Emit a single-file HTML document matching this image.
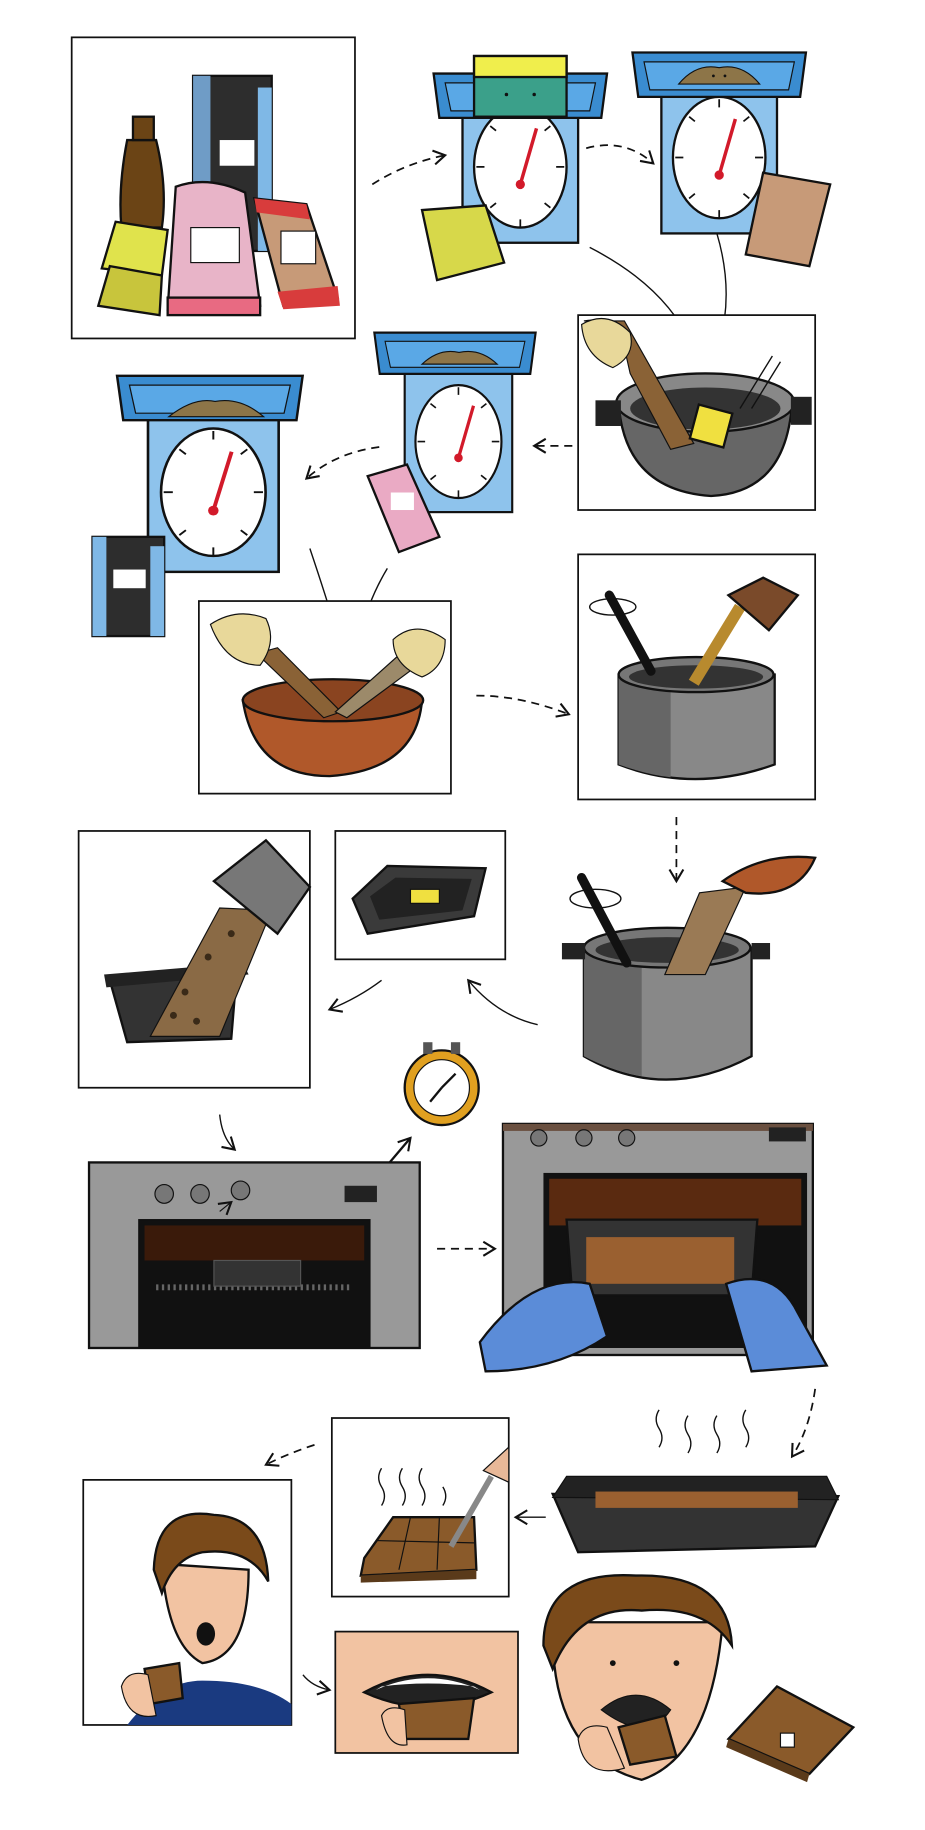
<!DOCTYPE html>
<html><head><meta charset="utf-8"><style>html,body{margin:0;padding:0;background:#fff}svg{display:block}</style></head>
<body>
<svg width="925" height="1830" viewBox="0 0 800 1568" preserveAspectRatio="none" xmlns="http://www.w3.org/2000/svg">
<defs>
<marker id="ah" markerUnits="userSpaceOnUse" markerWidth="14" markerHeight="14" refX="11" refY="7" orient="auto"><path d="M1,1 L11,7 L1,13" fill="none" stroke="#111" stroke-width="1.8"/></marker>
<g id="scale">
 <rect x="0" y="30" width="100" height="130" fill="#8ec3ec" stroke="#111" stroke-width="2"/>
 <ellipse cx="50" cy="95" rx="40" ry="52" fill="#fff" stroke="#111" stroke-width="2"/>
 <line x1="50" y1="110" x2="64" y2="62" stroke="#d21a2a" stroke-width="3"/>
 <circle cx="50" cy="110" r="4" fill="#d21a2a"/>
 <path d="M50,45v7M50,140v7M12,95h7M81,95h7M24,60l5,4M76,60l-5,4M24,130l5,-4M76,130l-5,-4" stroke="#111" stroke-width="1.5"/>
</g>
<g id="tray">
 <path d="M-25,0 H125 L120,38 H-20 Z" fill="#3a8cd0" stroke="#111" stroke-width="2"/>
 <path d="M-15,8 H115 L110,32 H-10 Z" fill="#5aa8e6" stroke="#111" stroke-width="1"/>
</g>
</defs>
<style>.p{fill:#fff;stroke:#111;stroke-width:1.5}.a{fill:none;stroke:#111;stroke-width:1.5;stroke-dasharray:7 5}.s{fill:none;stroke:#111;stroke-width:1.2}</style>

<rect class="p" x="62" y="32" width="245" height="258"/>
<rect x="167" y="65" width="68" height="150" fill="#2d2d2d" stroke="#111" stroke-width="2"/>
<rect x="167" y="65" width="15" height="150" fill="#6f9cc6"/><rect x="223" y="75" width="12" height="140" fill="#7fb8e6"/>
<rect x="190" y="120" width="30" height="22" fill="#fff"/>
<path d="M110,120 Q102,160 105,195 H140 Q145,160 135,120 Z" fill="#6b4415" stroke="#111" stroke-width="2"/>
<rect x="115" y="100" width="18" height="20" fill="#6b4415" stroke="#111" stroke-width="2"/>
<path d="M100,190 L145,197 L140,236 L88,230 Z" fill="#e0e34c" stroke="#111" stroke-width="2"/>
<path d="M95,228 L140,236 L138,270 L85,262 Z" fill="#c8c53c" stroke="#111" stroke-width="2"/>
<path d="M152,160 Q180,150 212,165 L225,262 L145,265 Z" fill="#e8b4c8" stroke="#111" stroke-width="2"/>
<rect x="145" y="255" width="80" height="15" fill="#e86a82" stroke="#111" stroke-width="2"/>
<rect x="165" y="195" width="42" height="30" fill="#fff" stroke="#111"/>
<path d="M220,170 L265,175 L292,255 L245,262 Z" fill="#c79a78" stroke="#111" stroke-width="2"/>
<path d="M220,170 L265,175 L268,188 L222,182Z" fill="#d83c3c"/><path d="M240,250 L292,245 L294,262 L245,265Z" fill="#d83c3c"/>
<rect x="243" y="198" width="30" height="28" fill="#fff" stroke="#111"/>
<path class="a" d="M322,158 Q350,140 385,133" marker-end="url(#ah)"/>

<g transform="translate(400,48)"><use href="#scale"/><use href="#tray" transform="translate(0,15)"/>
<rect x="10" y="0" width="80" height="52" fill="#3ba08a" stroke="#111" stroke-width="2"/><rect x="10" y="0" width="80" height="18" fill="#f0ee4c" stroke="#111" stroke-width="2"/>
<circle cx="38" cy="33" r="1.5" fill="#111"/><circle cx="62" cy="33" r="1.5" fill="#111"/></g>
<path d="M365,180 L420,176 L436,225 L378,240 Z" fill="#d7d84a" stroke="#111" stroke-width="2"/>
<path class="a" d="M507,127 Q540,118 565,140" marker-end="url(#ah)"/>

<g transform="translate(572,40)"><use href="#scale"/><use href="#tray" transform="translate(0,5)"/>
<path d="M15,32 Q30,14 50,18 Q70,14 85,32 Z" fill="#8d7548" stroke="#111"/><circle cx="45" cy="25" r="1.2" fill="#111"/><circle cx="55" cy="25" r="1.2" fill="#111"/></g>
<path d="M660,148 L718,158 L700,228 L645,218 Z" fill="#c79a78" stroke="#111" stroke-width="2"/>
<path class="s" d="M510,212 Q575,245 598,295" marker-end="url(#ah)"/>
<path class="s" d="M620,200 Q635,250 622,295" marker-end="url(#ah)"/>

<rect class="p" x="500" y="270" width="205" height="167"/>
<path d="M535,345 Q540,420 615,425 Q680,422 685,345 Z" fill="#666" stroke="#111" stroke-width="2"/>
<ellipse cx="610" cy="345" rx="77" ry="25" fill="#888" stroke="#111" stroke-width="2"/>
<ellipse cx="610" cy="350" rx="65" ry="18" fill="#333"/>
<rect x="515" y="343" width="22" height="22" fill="#222"/><rect x="684" y="340" width="18" height="24" fill="#222"/>
<path d="M505,275 Q530,270 540,298 L545,320 L580,385 L600,380 L560,310 L540,275 Z" fill="#8a6236" stroke="#111"/>
<path d="M503,278 Q525,265 545,285 Q550,305 530,315 Q505,305 503,278Z" fill="#e8d89a" stroke="#111"/>
<rect x="600" y="350" width="30" height="30" fill="#f0e040" stroke="#111" stroke-width="2" transform="rotate(15 615 365)"/>
<path class="s" d="M640,350 L668,305M650,350 L675,310"/>
<path class="a" d="M495,382 L462,382" marker-end="url(#ah)"/>

<g transform="translate(350,290)"><use href="#scale" transform="scale(0.93)"/><use href="#tray" transform="translate(-3,-5) scale(0.93)"/>
<path d="M15,22 Q30,8 47,12 Q65,8 80,22 Z" fill="#8d7548" stroke="#111"/></g>
<path d="M318,408 L352,398 L380,460 L345,473 Z" fill="#eaaac4" stroke="#111" stroke-width="2"/>
<rect x="338" y="422" width="20" height="15" fill="#fff"/>
<path class="a" d="M328,383 Q290,388 265,410" marker-end="url(#ah)"/>

<g transform="translate(128,322)"><use href="#scale" transform="scale(1.13,1.05)"/><use href="#tray" transform="translate(0,0) scale(1.07,1)"/>
<path d="M18,35 Q40,18 58,22 Q80,18 100,35 Z" fill="#8d7548" stroke="#111"/></g>
<rect x="80" y="460" width="62" height="85" fill="#2d2d2d" stroke="#111" stroke-width="2"/>
<rect x="80" y="460" width="12" height="85" fill="#7fb8e6"/><rect x="130" y="468" width="12" height="77" fill="#7fb8e6"/>
<rect x="98" y="488" width="28" height="16" fill="#fff"/>
<path class="s" d="M268,470 Q285,520 295,555" marker-end="url(#ah)"/>
<path class="s" d="M335,487 Q315,520 310,555" marker-end="url(#ah)"/>

<rect class="p" x="172" y="515" width="218" height="165"/>
<path d="M210,600 Q220,665 285,665 Q360,660 365,600 Z" fill="#b0582a" stroke="#111" stroke-width="2"/>
<ellipse cx="288" cy="600" rx="78" ry="18" fill="#8a4420" stroke="#111" stroke-width="2"/>
<path d="M222,560 L280,615 L295,610 L240,555Z" fill="#8a6236" stroke="#111"/>
<path d="M375,560 L300,615 L290,610 L360,548Z" fill="#9c8a6a" stroke="#111"/>
<path d="M182,535 Q205,520 230,530 Q240,550 225,570 Q195,570 182,535Z" fill="#e8d89a" stroke="#111"/>
<path d="M340,548 Q360,530 385,548 Q385,572 365,580 Q340,570 340,548Z" fill="#e8d89a" stroke="#111"/>
<path class="a" d="M412,596 Q450,596 492,612" marker-end="url(#ah)"/>

<rect class="p" x="500" y="475" width="205" height="210"/>
<path d="M535,578 V655 Q600,680 670,655 V578 Z" fill="#888" stroke="#111" stroke-width="2"/>
<path d="M535,578 V655 Q560,664 580,666 V580Z" fill="#666"/>
<ellipse cx="602" cy="578" rx="67" ry="15" fill="#777" stroke="#111" stroke-width="2"/>
<ellipse cx="602" cy="580" rx="58" ry="10" fill="#333"/>
<path d="M527,510 L563,575" stroke="#111" stroke-width="8" stroke-linecap="round"/>
<path d="M600,585 L640,520" stroke="#b88a2e" stroke-width="10"/>
<path d="M630,510 L660,495 L690,510 L665,540 Z" fill="#7a4a2a" stroke="#111" stroke-width="2"/>
<ellipse cx="530" cy="520" rx="20" ry="7" class="s"/>
<path class="a" d="M585,700 V755" marker-end="url(#ah)"/>

<rect class="p" x="68" y="712" width="200" height="220"/>
<path d="M95,840 L205,830 L200,890 L110,893 Z" fill="#333" stroke="#111" stroke-width="2"/>
<path d="M90,835 L210,825 L215,835 L92,846Z" fill="#222"/>
<path d="M130,888 L190,778 L235,780 L190,888 Z" fill="#8a6a45" stroke="#111"/>
<g fill="#3a2a18"><circle cx="160" cy="850" r="3"/><circle cx="180" cy="820" r="3"/><circle cx="150" cy="870" r="3"/><circle cx="200" cy="800" r="3"/><circle cx="170" cy="875" r="3"/></g>
<path d="M185,755 L230,720 L268,760 L240,800Z" fill="#777" stroke="#111" stroke-width="2"/>

<rect class="p" x="290" y="712" width="147" height="110"/>
<path d="M305,770 L335,742 L420,744 L410,785 L318,800 Z" fill="#3a3a3a" stroke="#111" stroke-width="2"/>
<path d="M320,768 L342,752 L408,753 L400,780 L328,788 Z" fill="#222"/>
<rect x="355" y="762" width="25" height="12" fill="#f0e040" stroke="#111"/>
<path class="s" d="M330,840 Q310,855 285,865" marker-end="url(#ah)"/>
<path class="s" d="M465,878 Q430,870 405,840" marker-end="url(#ah)"/>

<path d="M505,812 V905 Q575,945 650,905 V812 Z" fill="#888" stroke="#111" stroke-width="2"/>
<path d="M505,812 V905 Q530,918 555,922 V815Z" fill="#666"/>
<ellipse cx="577" cy="812" rx="72" ry="17" fill="#777" stroke="#111" stroke-width="2"/>
<ellipse cx="577" cy="814" rx="62" ry="11" fill="#333"/>
<rect x="486" y="808" width="20" height="14" fill="#222"/><rect x="650" y="808" width="16" height="14" fill="#222"/>
<path d="M503,752 L542,825" stroke="#111" stroke-width="8" stroke-linecap="round"/>
<ellipse cx="515" cy="770" rx="22" ry="8" class="s"/>
<path d="M575,835 L605,765 L645,760 L610,835 Z" fill="#9a7a55" stroke="#111"/>
<path d="M625,755 Q660,730 705,735 Q690,770 645,765 Z" fill="#b0582a" stroke="#111" stroke-width="2"/>

<circle cx="382" cy="932" r="32" fill="#e0a020" stroke="#111" stroke-width="2"/>
<circle cx="382" cy="932" r="24" fill="#fff" stroke="#111"/>
<rect x="366" y="893" width="8" height="10" fill="#555"/><rect x="390" y="893" width="8" height="10" fill="#555"/>
<path d="M382,932 L394,920M382,932 L372,944" stroke="#111" stroke-width="2"/>

<path class="s" d="M190,955 Q192,975 203,985" marker-end="url(#ah)"/>
<path d="M325,1010 L355,975" stroke="#111" stroke-width="2" marker-end="url(#ah)"/>

<rect x="77" y="996" width="286" height="159" fill="#999" stroke="#111" stroke-width="2"/>
<rect x="120" y="1045" width="200" height="110" fill="#111" stroke="#111"/>
<rect x="125" y="1050" width="190" height="30" fill="#3a1a0a"/>
<circle cx="142" cy="1023" r="8" fill="#777" stroke="#111"/><circle cx="173" cy="1023" r="8" fill="#777" stroke="#111"/><circle cx="208" cy="1020" r="8" fill="#777" stroke="#111"/>
<rect x="298" y="1016" width="28" height="14" fill="#222"/>
<path d="M190,1038 L200,1030" stroke="#111" marker-end="url(#ah)"/>
<path d="M135,1103 H305" stroke="#666" stroke-width="5" stroke-dasharray="2 3"/>
<rect x="185" y="1080" width="75" height="22" fill="#333" stroke="#555"/>
<path class="a" d="M378,1070 L428,1070" marker-end="url(#ah)"/>

<rect x="435" y="963" width="268" height="198" fill="#999" stroke="#111" stroke-width="2"/>
<rect x="435" y="963" width="268" height="6" fill="#6a5040"/>
<rect x="470" y="1005" width="228" height="150" fill="#111"/>
<rect x="475" y="1010" width="218" height="40" fill="#5a2a10"/>
<circle cx="466" cy="975" r="7" fill="#777" stroke="#111"/><circle cx="505" cy="975" r="7" fill="#777" stroke="#111"/><circle cx="542" cy="975" r="7" fill="#777" stroke="#111"/>
<rect x="665" y="966" width="32" height="12" fill="#222"/>
<path d="M490,1045 L655,1045 L650,1110 L495,1110 Z" fill="#333" stroke="#111" stroke-width="2"/>
<rect x="507" y="1060" width="128" height="40" fill="#9a6030"/>
<path d="M415,1150 Q460,1090 510,1100 L525,1145 Q480,1175 420,1175 Z" fill="#5b8cd8" stroke="#111" stroke-width="2"/>
<path d="M628,1100 Q670,1085 690,1125 L715,1170 L650,1175 Z" fill="#5b8cd8" stroke="#111" stroke-width="2"/>
<path class="a" d="M705,1190 Q700,1225 685,1248" marker-end="url(#ah)"/>

<path d="M478,1280 L725,1282 L705,1325 L500,1330 Z" fill="#333" stroke="#111" stroke-width="2"/>
<path d="M490,1265 L715,1265 L725,1285 L478,1283 Z" fill="#222" stroke="#111"/>
<rect x="515" y="1278" width="175" height="14" fill="#9a6030"/>
<path class="s" d="M570,1240 q5,-8 0,-16 q-5,-8 0,-16M595,1245 q5,-8 0,-16 q-5,-8 0,-16M620,1245 q5,-8 0,-16 q-5,-8 0,-16M645,1240 q5,-8 0,-16 q-5,-8 0,-16"/>
<path class="s" d="M472,1300 L446,1300" marker-end="url(#ah)"/>

<rect class="p" x="287" y="1215" width="153" height="153"/>
<path d="M315,1335 L340,1300 L410,1300 L412,1345 L312,1350 Z" fill="#8a5a2a" stroke="#111" stroke-width="2"/>
<path d="M312,1350 L412,1345 L412,1353 L312,1356Z" fill="#5a3a1a"/>
<path d="M355,1300 L345,1345M380,1300 L378,1345M325,1320 L410,1322" stroke="#111"/>
<path d="M390,1325 L425,1265" stroke="#888" stroke-width="5"/>
<path d="M418,1260 L440,1240 L440,1270Z" fill="#e8b898" stroke="#111"/>
<path class="s" d="M330,1290 q5,-8 0,-16 q-5,-8 0,-16M348,1290 q5,-8 0,-16 q-5,-8 0,-16M365,1290 q5,-8 0,-16 q-5,-8 0,-16M383,1290 q5,-8 0,-16"/>
<path class="a" d="M272,1238 Q250,1245 230,1255" marker-end="url(#ah)"/>

<rect class="p" x="72" y="1268" width="180" height="210"/>
<path d="M110,1478 Q140,1440 175,1440 Q225,1440 252,1460 V1478Z" fill="#1a3a80"/>
<path d="M140,1340 Q145,1410 175,1425 Q215,1420 215,1345 Z" fill="#f2c3a2" stroke="#111" stroke-width="2"/>
<path d="M133,1345 Q135,1290 185,1298 Q230,1300 232,1355 Q215,1325 175,1330 Q150,1335 140,1365 Z" fill="#7a4a1a" stroke="#111" stroke-width="2"/>
<ellipse cx="178" cy="1400" rx="8" ry="10" fill="#111"/>
<path d="M125,1430 L155,1425 L158,1455 L130,1460Z" fill="#8a5a2a" stroke="#111" stroke-width="2"/>
<path d="M105,1445 Q110,1430 128,1435 L135,1470 Q110,1475 105,1445Z" fill="#f2c3a2" stroke="#111"/>
<path class="s" d="M262,1435 Q270,1445 285,1448" marker-end="url(#ah)"/>

<rect x="290" y="1398" width="158" height="104" fill="#f2c3a2" stroke="#111" stroke-width="1.5"/>
<path d="M315,1450 Q370,1420 425,1450 Q370,1475 315,1450Z" fill="#222" stroke="#111" stroke-width="2"/>
<path d="M325,1448 Q370,1428 415,1448 L410,1445 Q370,1440 330,1445Z" fill="#fff"/>
<path d="M345,1460 L410,1455 L405,1490 L350,1490Z" fill="#8a5a2a" stroke="#111" stroke-width="2"/>
<path d="M330,1470 Q335,1460 350,1465 L352,1495 Q335,1498 330,1470Z" fill="#f2c3a2" stroke="#111"/>

<path d="M478,1390 Q475,1505 555,1525 Q615,1505 625,1390 Z" fill="#f2c3a2" stroke="#111" stroke-width="2"/>
<path d="M470,1410 Q470,1345 550,1350 Q630,1348 633,1410 Q610,1375 555,1380 Q500,1375 478,1430 Z" fill="#7a4a1a" stroke="#111" stroke-width="2"/>
<path d="M520,1465 Q550,1440 580,1465 Q560,1495 520,1465Z" fill="#222" stroke="#111"/>
<path d="M535,1480 L575,1470 L585,1505 L545,1512Z" fill="#8a5a2a" stroke="#111" stroke-width="2"/>
<path d="M500,1490 Q505,1475 525,1480 L540,1515 Q505,1525 500,1490Z" fill="#f2c3a2" stroke="#111"/>
<circle cx="530" cy="1425" r="2.5" fill="#111"/><circle cx="585" cy="1425" r="2.5" fill="#111"/>

<path d="M630,1490 L672,1445 L738,1480 L700,1520 Z" fill="#8a5a2a" stroke="#111" stroke-width="2"/>
<path d="M630,1490 L700,1520 L698,1527 L628,1497Z" fill="#5a3a1a"/>
<rect x="675" y="1485" width="12" height="12" fill="#fff" stroke="#111"/>
</svg>
</body></html>
